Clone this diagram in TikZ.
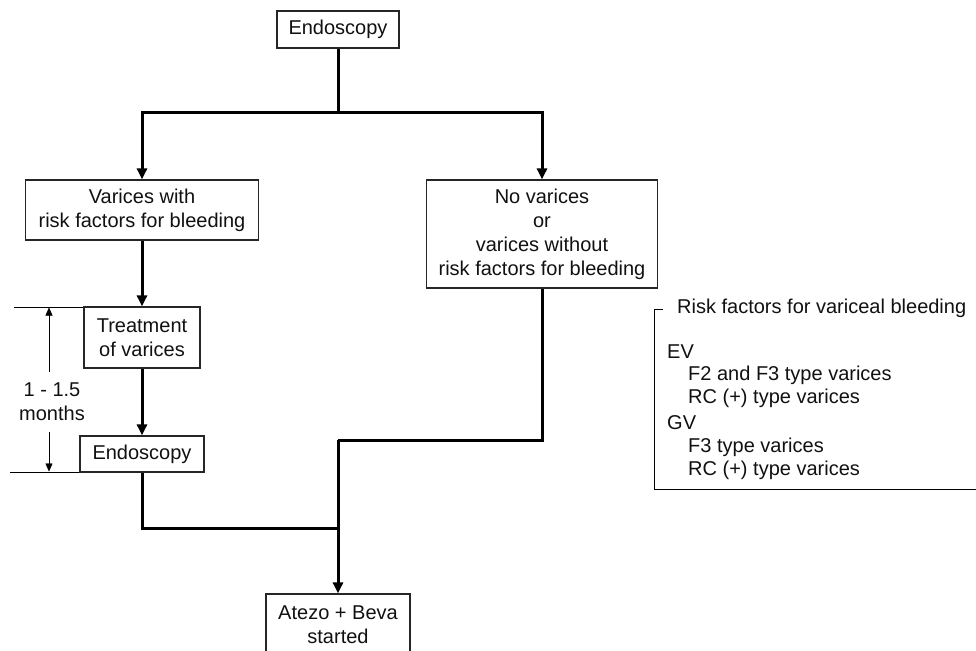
\documentclass[tikz,border=0pt]{standalone}
\usepackage{fontspec}
\setmainfont{Liberation Sans}
\usetikzlibrary{arrows.meta,calc}
\definecolor{txt}{HTML}{111111}
\definecolor{thin}{HTML}{555555}
\tikzset{
  box/.style={draw=black!85, line width=1.2pt, fill=white, inner sep=0pt, align=center,
    text=txt, font=\fontsize{20}{24}\selectfont},
  conn/.style={line width=3pt, line join=miter, black},
  arr/.style={-{Triangle[length=11pt,width=10pt]}},
  dim/.style={line width=0.9pt, thin},
  dimarr/.style={-{Triangle[length=8pt,width=7pt]}},
  lbl/.style={text=txt, font=\fontsize{20}{24}\selectfont, inner sep=0pt, anchor=west},
}
\begin{document}
\begin{tikzpicture}[x=1pt,y=-1pt]
\clip (0,0) rectangle (976,650);
\fill[white] (0,0) rectangle (976,650);

% boxes
\node[box, minimum width=122pt, minimum height=37pt] (e1) at (338,29.5) {Endoscopy};
\node[box, minimum width=233pt, minimum height=60pt] (vr) at (142,210) {Varices with\\risk factors for bleeding};
\node[box, minimum width=231pt, minimum height=108pt] (nv) at (542,234) {No varices\\or\\varices without\\risk factors for bleeding};
\node[box, minimum width=116pt, minimum height=61pt] (tr) at (142,337.5) {Treatment\\of varices};
\node[box, minimum width=124pt, minimum height=36pt] (e2) at (142,454) {Endoscopy};
\node[box, minimum width=144pt, minimum height=62pt] (at) at (338,625) {Atezo + Beva\\started};

% junctions
\coordinate (j1) at (338,113);
\coordinate (j2) at (338,440);
\coordinate (j3) at (338,528);

% connectors
\draw[conn] (e1.south) -- (j1);
\draw[conn, arr] (j1) -| (vr.north);
\draw[conn, arr] (j1) -| (nv.north);
\draw[conn, arr] (vr.south) -- (tr.north);
\draw[conn, arr] (tr.south) -- (e2.north);
\draw[conn] (nv.south) |- (j2);
\draw[conn] (e2.south) |- (j3);
\draw[conn, arr] (j2) -- (at.north);

% interval dimension
\coordinate (d1) at (14,307);
\coordinate (d2) at (10,472);
\draw[dim] (d1) -- (tr.west |- d1);
\draw[dim] (d2) -- (e2.west |- d2);
\node[text=txt, font=\fontsize{20}{24}\selectfont, align=center, inner sep=0pt] (dt) at (52,402) {1 - 1.5\\months};
\draw[dim, dimarr] (49,372) -- (49,307.5);
\draw[dim, dimarr] (49,432) -- (49,471.5);

% risk factor panel
\coordinate (b1) at (663,309);
\coordinate (b2) at (654,309);
\coordinate (b3) at (654,489);
\coordinate (b4) at (976,489);
\draw[dim] (b1) -- (b2) -- (b3) -- (b4);
\node[lbl] (rt) at (677,308) {Risk factors for variceal bleeding};
\node[lbl] (ev) at (667,352) {EV};
\node[lbl] (ev1) at (688,375) {F2 and F3 type varices};
\node[lbl] (ev2) at (688,398) {RC (+) type varices};
\node[lbl] (gv) at (667,423) {GV};
\node[lbl] (gv1) at (688,447) {F3 type varices};
\node[lbl] (gv2) at (688,470) {RC (+) type varices};
\end{tikzpicture}
\end{document}
